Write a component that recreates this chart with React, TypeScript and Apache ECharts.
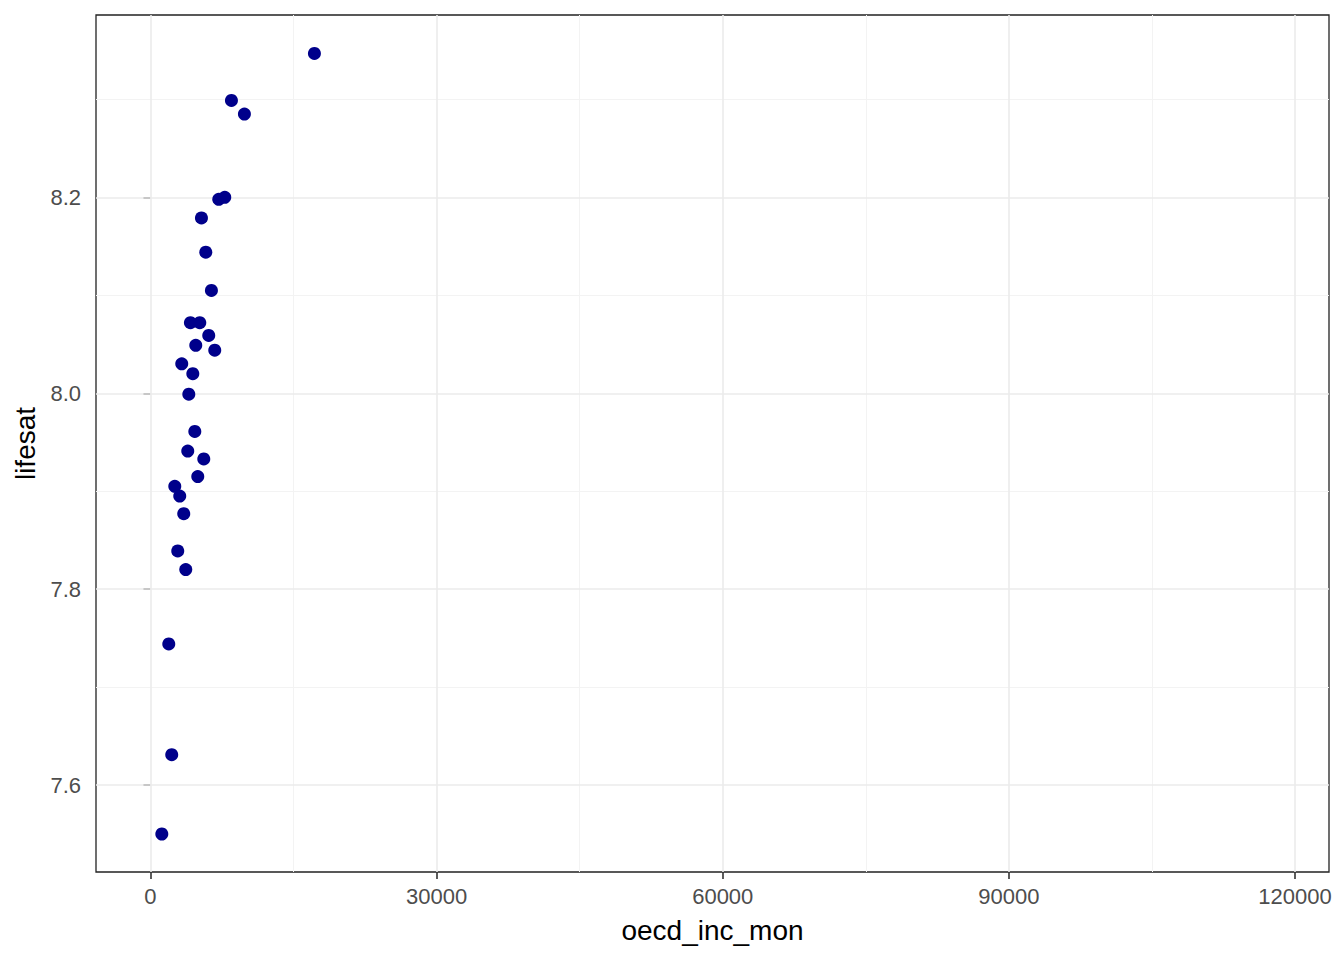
import React, { useEffect, useRef } from "react";
import * as echarts from "echarts";

const income = [17190, 8490, 9850, 7160, 7790, 5345, 5800, 6390, 4190, 5170, 6110, 4750, 6740, 3280, 4440, 4020, 4650, 3910, 5590, 4960, 2550, 3070, 3490, 2860, 3700, 1920, 2230, 1190];
const lifesat = [8.347, 8.299, 8.285, 8.198, 8.2, 8.179, 8.144, 8.105, 8.072, 8.072, 8.059, 8.049, 8.044, 8.03, 8.02, 7.999, 7.961, 7.941, 7.933, 7.915, 7.905, 7.895, 7.877, 7.839, 7.82, 7.744, 7.631, 7.55];
const xTicks = [0, 30000, 60000, 90000, 120000];
const xMinor = [15000, 45000, 75000, 105000];
const yTicks = [7.6, 7.8, 8.0, 8.2];
const yMinor = [7.7, 7.9, 8.1, 8.3];
const xRange = [-5710, 123560];
const yRange = [7.5112, 8.3862];

const FONT = "'Liberation Sans', Arial, sans-serif";

export default function App() {
  const ref = useRef<HTMLDivElement>(null);
  useEffect(() => {
    if (!ref.current) return;
    const chart = echarts.init(ref.current, undefined, { renderer: "svg" });
    const points = income.map((x, i) => [x, lifesat[i]]);
    const gridLine = (c: string, w: number) => ({ color: c, width: w, type: "solid" as const });
    const markData = [
      ...xMinor.map((v) => ({ xAxis: v, lineStyle: gridLine("#F3F3F3", 1) })),
      ...yMinor.map((v) => ({ yAxis: v, lineStyle: gridLine("#F3F3F3", 1) })),
      ...xTicks.map((v) => ({ xAxis: v, lineStyle: gridLine("#EBEBEB", 1.6) })),
      ...yTicks.map((v) => ({ yAxis: v, lineStyle: gridLine("#EBEBEB", 1.6) })),
    ];
    chart.setOption({
      animation: false,
      backgroundColor: "#FFFFFF",
      grid: {
        left: 96,
        right: 15,
        top: 15,
        bottom: 88,
        show: true,
        borderColor: "#222222",
        borderWidth: 1.3,
        backgroundColor: "#FFFFFF",
      },
      xAxis: {
        type: "value",
        min: xRange[0],
        max: xRange[1],
        name: "oecd_inc_mon",
        nameLocation: "middle",
        nameGap: 44,
        nameTextStyle: { fontFamily: FONT, fontSize: 28, color: "#000000" },
        axisLine: { show: false },
        splitLine: { show: false },
        axisTick: {
          show: true,
          customValues: xTicks,
          length: 7,
          lineStyle: { color: "#333333", width: 1.6 },
        },
        axisLabel: {
          customValues: xTicks,
          margin: 13,
          fontFamily: FONT,
          fontSize: 22,
          color: "#4D4D4D",
          formatter: (v: number) => String(v),
        },
      },
      yAxis: {
        type: "value",
        min: yRange[0],
        max: yRange[1],
        name: "lifesat",
        nameLocation: "middle",
        nameGap: 56,
        nameRotate: 90,
        nameTextStyle: { fontFamily: FONT, fontSize: 28, color: "#000000" },
        axisLine: { show: false },
        splitLine: { show: false },
        axisTick: {
          show: true,
          customValues: yTicks,
          length: 7,
          lineStyle: { color: "#333333", width: 1.6 },
        },
        axisLabel: {
          customValues: yTicks,
          margin: 15,
          fontFamily: FONT,
          fontSize: 22,
          color: "#4D4D4D",
          formatter: (v: number) => v.toFixed(1),
        },
      },
      series: [
        {
          type: "scatter",
          data: [],
          silent: true,
          z: 1,
          markLine: {
            silent: true,
            symbol: ["none", "none"],
            label: { show: false },
            emphasis: { disabled: true },
            data: markData,
          },
        },
        {
          type: "scatter",
          data: points,
          symbol: "circle",
          symbolSize: 13,
          z: 5,
          itemStyle: { color: "#00008B", opacity: 1 },
        },
      ],
    });
    return () => chart.dispose();
  }, []);
  return (
    <div
      ref={ref}
      style={{ position: "fixed", left: 0, top: 0, width: 1344, height: 960 }}
    />
  );
}
